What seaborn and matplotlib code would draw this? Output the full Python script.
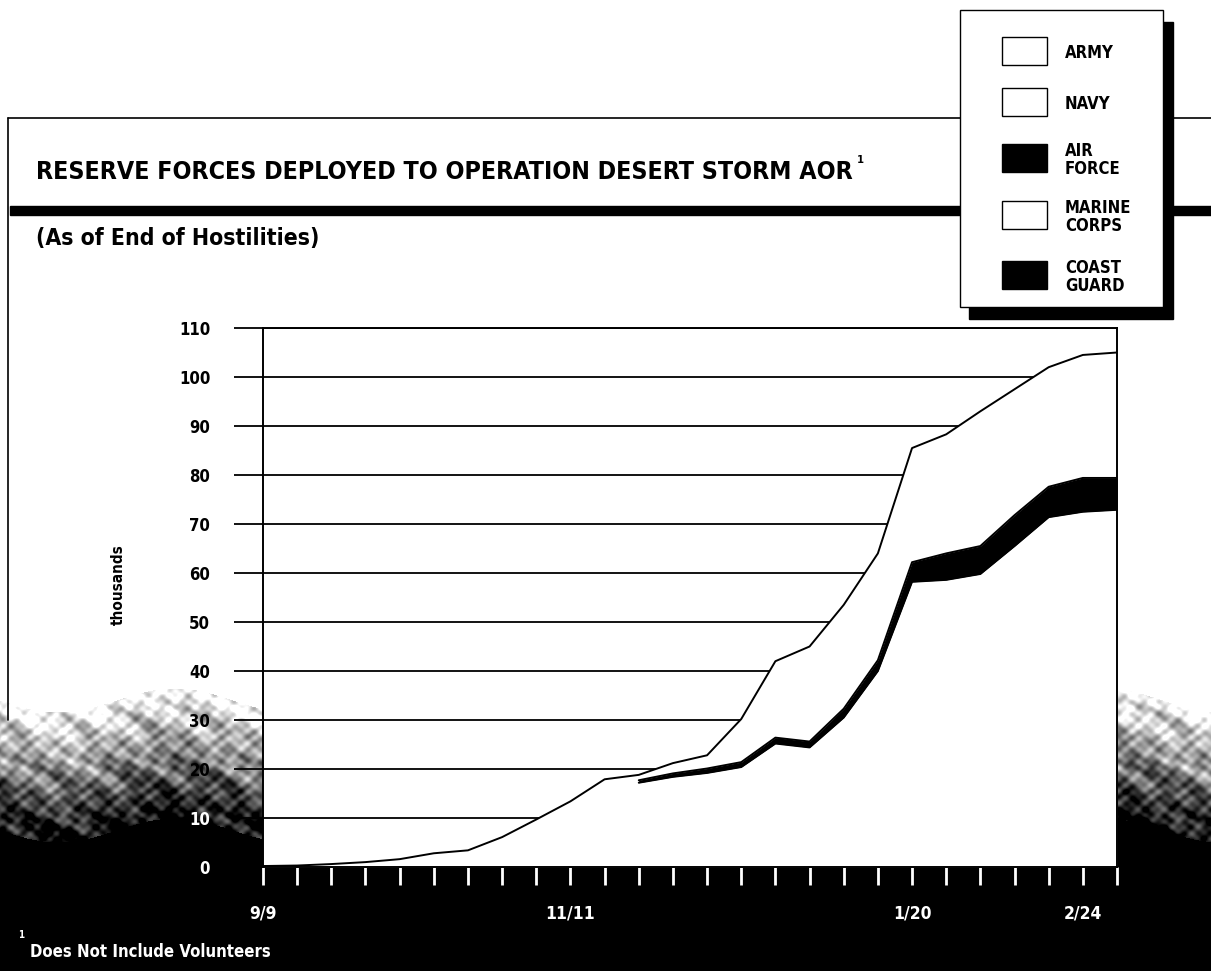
import numpy as np
import pandas as pd
import matplotlib
matplotlib.use('Agg')

import matplotlib.pyplot as plt
from matplotlib.patches import Rectangle
from matplotlib.lines import Line2D
import seaborn as sns

# ================= DATA =================
weeks = list(range(26))
x_labels = {0: "9/9", 9: "11/11", 19: "1/20", 24: "2/24"}
y_ticks = list(range(0, 111, 10))

# all reserve forces (top line), thousands
total = [0.2, 0.3, 0.6, 1.0, 1.6, 2.8, 3.4, 6.1, 9.7, 13.4, 17.9, 18.8, 21.2,
         22.8, 30.2, 42.0, 45.0, 53.5, 64.0, 85.5, 88.3, 93.0, 97.5, 102.0,
         104.5, 105.0]
# army (bottom layer) and air force band, shown from week 11 on
army = [np.nan] * 11 + [17.2, 18.4, 19.2, 20.4, 25.2, 24.4, 30.5, 40.0, 58.2,
                        58.6, 59.8, 65.5, 71.4, 72.5, 72.9]
air_force = [np.nan] * 11 + [0.5, 0.7, 0.9, 1.0, 1.2, 1.2, 1.8, 2.2, 4.0, 5.4,
                             5.7, 6.3, 6.2, 6.9, 6.5]

legend_labels = ["ARMY", "NAVY", "AIR\nFORCE", "MARINE\nCORPS", "COAST\nGUARD"]
legend_colors = ["white", "white", "black", "white", "black"]

title = "RESERVE FORCES DEPLOYED TO OPERATION DESERT STORM AOR"
subtitle = "(As of End of Hostilities)"
footnote = "Does Not Include Volunteers"

df = pd.DataFrame({"week": weeks, "total": total, "army": army, "air_force": air_force})
df["band_top"] = df["army"] + df["air_force"]

# ================= STYLE =================
sns.set_theme(style="white")
plt.rcParams['font.family'] = ['DejaVu Sans']
plt.rcParams['font.stretch'] = 'condensed'
plt.rcParams.update({
    "text.color": "black",
    "axes.labelcolor": "black",
    "xtick.color": "black",
    "ytick.color": "black",
})

W, H = 1211, 971
fig = plt.figure(figsize=(W / 100, H / 100), dpi=100)


def fx(px):
    return px / W


def fy(py):
    return 1 - py / H


# ================= BACKGROUND (dark scan edge) =================
yy, xx = np.mgrid[0:H, 0:W].astype(float)
tex = (0.4 * np.sin(xx / 4.3 + np.sin(yy / 9.0) * 2.0) * np.sin(yy / 3.7 + xx / 23.0)
       + 0.35 * np.sin(xx / 11.7 - yy / 6.3) * np.sin(yy / 17.0)
       + 0.25 * np.sin(xx / 2.1) * np.sin(yy / 1.9))
edge = 700 + 12 * np.sin(xx / 37.0)
dark = np.clip((yy - edge) / 130.0, 0, 1)
mid = (dark > 0) & (dark < 1)
dark = np.clip(dark + 0.5 * tex * mid, 0, 1)
bg = fig.add_axes([0, 0, 1, 1], zorder=-1)
bg.imshow(1 - dark, cmap="gray", vmin=0, vmax=1, aspect="auto", extent=[0, W, H, 0],
          interpolation="nearest")
bg.axis("off")

# ================= MAIN PLOT =================
ax = fig.add_axes([fx(263), fy(867), fx(1117 - 263), (867 - 328) / H], zorder=1)
ax.set_facecolor("white")

for v in y_ticks[1:]:
    ax.axhline(v, color="black", lw=1.3, zorder=1)

ax.fill_between(df["week"], 0, df["total"], color="white", zorder=2)
ax.fill_between(df["week"], df["army"], df["band_top"], color="black", lw=0, zorder=3)
sns.lineplot(data=df, x="week", y="army", color="black", lw=1.4, ax=ax, zorder=4)
sns.lineplot(data=df, x="week", y="band_top", color="black", lw=1.4, ax=ax, zorder=4)
sns.lineplot(data=df, x="week", y="total", color="black", lw=1.4, ax=ax, zorder=4)

ax.set_xlim(0, 25)
ax.set_ylim(0, 110)
ax.set_xlabel("")
ax.set_ylabel("")

for s in ["left", "right", "top", "bottom"]:
    ax.spines[s].set_visible(True)
    ax.spines[s].set_color("black")
    ax.spines[s].set_linewidth(1.4)

ax.set_yticks(y_ticks)
ax.set_yticklabels([str(v) for v in y_ticks], fontweight="bold")
ax.tick_params(axis="y", direction="out", length=21, width=1.3, color="black",
               labelsize=12, pad=17, left=True)
ax.set_xticks(weeks)
ax.set_xticklabels([x_labels.get(w, "") for w in weeks], fontweight="bold", color="white")
ax.tick_params(axis="x", direction="out", length=13, width=2, color="white",
               labelsize=12.5, pad=14, bottom=True)

for i, t in enumerate(ax.yaxis.get_major_ticks()):
    if y_ticks[i] <= 10:
        t.tick1line.set_color("white")
        t.label1.set_color("white")

fig.text(fx(118), fy(585), "thousands", rotation=90, ha="center", va="center",
         fontsize=11, fontweight="bold")

# ================= HEADER / FRAME =================
fig.add_artist(Line2D([fx(8), 1], [fy(118), fy(118)], color="black", lw=1.2, zorder=2))
fig.add_artist(Line2D([fx(8), fx(8)], [fy(118), fy(720)], color="black", lw=1.2, zorder=2))
fig.add_artist(Rectangle((fx(10), fy(215)), 1 - fx(10), 9 / H, color="black", zorder=2))

t = fig.text(fx(36), fy(172), title, ha="left", va="center", fontsize=18,
             fontweight="heavy", zorder=3)
fig.canvas.draw()
bb = t.get_window_extent()
# fit the title to the width it has in the reference
t.set_fontsize(18 * 818 / bb.width)
fig.canvas.draw()
bbf = t.get_window_extent().transformed(fig.transFigure.inverted())
fig.text(bbf.x1 + fx(4), fy(160), "1", ha="left", va="center", fontsize=8,
         fontweight="bold", zorder=3)
fig.text(fx(36), fy(238), subtitle, ha="left", va="center", fontsize=16.5,
         fontweight="heavy", zorder=3)

# ================= LEGEND BOX =================
fig.add_artist(Rectangle((fx(969), fy(319)), fx(1173 - 969), (319 - 22) / H,
                         color="black", zorder=5))
fig.add_artist(Rectangle((fx(960), fy(307)), fx(1163 - 960), (307 - 10) / H,
                         facecolor="white", edgecolor="black", lw=1, zorder=6))
patch_tops = [37, 88, 144, 201, 261]
for top, lab, col in zip(patch_tops, legend_labels, legend_colors):
    fig.add_artist(Rectangle((fx(1002), fy(top + 28)), fx(45), 28 / H,
                             facecolor=col, edgecolor="black", lw=1, zorder=7))
    fig.text(fx(1065), fy(top + 16), lab, ha="left", va="center", fontsize=12,
             fontweight="bold", linespacing=0.95, zorder=8)

# ================= FOOTNOTE =================
fig.text(fx(18), fy(938), "1", color="white", fontsize=7, fontweight="bold")
fig.text(fx(30), fy(952), footnote, ha="left", va="center", color="white",
         fontsize=12, fontweight="bold")

plt.savefig("out.png", dpi=100)
plt.close()
